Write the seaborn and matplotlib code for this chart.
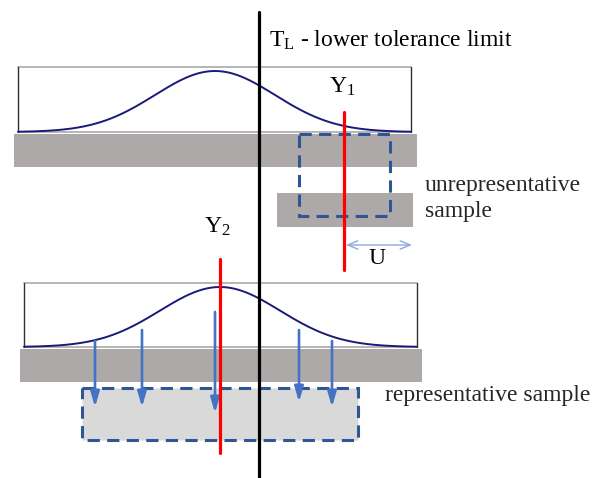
import numpy as np
import pandas as pd
import matplotlib
matplotlib.use("Agg")
import matplotlib.pyplot as plt
from matplotlib.patches import Rectangle
import seaborn as sns

# ==========================================
# DIAGRAM VALUES (pixel space of a 597x478 canvas, y grows downwards)
# ==========================================
panels = ["unrepresentative", "representative"]
curve_mu = [215, 220]          # centre of each bell curve
curve_sigma = [60, 60]         # spread of each bell curve
curve_box_x = [(18, 411), (24, 417)]
curve_box_y = [(67, 132), (283, 347)]
band_x = [(14, 417), (20, 422)]
band_y = [(134, 167), (349, 382)]

limit_x = 259                  # T_L line
limit_y = (12, 478)
y_lines_x = [344, 220]         # Y1, Y2
y_lines_y = [(112, 270), (259, 453)]

sample_box_gray = (277, 413, 193, 227)        # unrepresentative sample
sample_dash_1 = (299, 390, 134, 216)
sample_dash_2 = (82, 358, 388, 440)

arrow_x = [95, 142, 215, 299, 332]
arrow_y0 = [341, 330, 312, 330, 341]
arrow_y1 = [407, 407, 413, 402, 407]

u_arrow = (346, 412, 245)

labels = ["Y$_{1}$", "Y$_{2}$", "U"]
label_xy = [(342, 87), (217, 227), (377, 258)]

# ==========================================
# STYLE
# ==========================================
sns.set_theme(style="white")
plt.rcParams['font.family'] = ['Liberation Serif', 'DejaVu Serif']
plt.rcParams['mathtext.fontset'] = 'custom'
plt.rcParams['mathtext.rm'] = 'Liberation Serif'
plt.rcParams['mathtext.default'] = 'regular'

GRAY = '#ADA9A8'
LIGHT = '#D9D9D9'
DASH = '#2F5597'
ARROW = '#4472C4'
NAVY = '#1A1A78'
RED = '#FF0000'

fig = plt.figure(figsize=(5.97, 4.78), dpi=100)
ax = fig.add_axes([0, 0, 1, 1])
ax.set_xlim(0, 597)
ax.set_ylim(478, 0)
ax.axis('off')

for i in range(len(panels)):
    (bx0, bx1), (by0, by1) = curve_box_x[i], curve_box_y[i]
    # box around the distribution
    ax.plot([bx0, bx1], [by0, by0], color='#B0B0B0', lw=1.3, zorder=2)
    ax.plot([bx0, bx1], [by1, by1], color='#B0B0B0', lw=1.3, zorder=2)
    ax.plot([bx0, bx0], [by0, by1], color='#303030', lw=1.0, zorder=2)
    ax.plot([bx1, bx1], [by0, by1], color='#303030', lw=1.0, zorder=2)

    # bell curve
    xs = np.linspace(bx0, bx1, 300)
    amp = (by1 - by0) - 4
    ys = by1 - amp * np.exp(-0.5 * ((xs - curve_mu[i]) / curve_sigma[i]) ** 2)
    df = pd.DataFrame({'x': xs, 'y': ys})
    sns.lineplot(data=df, x='x', y='y', ax=ax, color=NAVY, lw=1.4,
                 sort=False, estimator=None, zorder=3)

    # gray material band
    (gx0, gx1), (gy0, gy1) = band_x[i], band_y[i]
    ax.add_patch(Rectangle((gx0, gy0), gx1 - gx0, gy1 - gy0,
                           facecolor=GRAY, edgecolor='none', zorder=1))

# unrepresentative sample block
x0, x1, y0, y1 = sample_box_gray
ax.add_patch(Rectangle((x0, y0), x1 - x0, y1 - y0, facecolor=GRAY,
                       edgecolor='none', zorder=1))

# representative sample block
x0, x1, y0, y1 = sample_dash_2
ax.add_patch(Rectangle((x0, y0), x1 - x0, y1 - y0, facecolor=LIGHT,
                       edgecolor=DASH, lw=2.2, linestyle=(0, (4, 2.4)),
                       zorder=2))

x0, x1, y0, y1 = sample_dash_1
ax.add_patch(Rectangle((x0, y0), x1 - x0, y1 - y0, facecolor='none',
                       edgecolor=DASH, lw=2.2, linestyle=(0, (4, 2.4)),
                       zorder=4))

# sampling arrows
for xa, ya0, ya1 in zip(arrow_x, arrow_y0, arrow_y1):
    ax.annotate('', xy=(xa, ya1), xytext=(xa, ya0),
                arrowprops=dict(arrowstyle='-|>,head_length=0.75,head_width=0.22',
                                color=ARROW, lw=1.9, shrinkA=0, shrinkB=0),
                zorder=5)

# U arrow
ux0, ux1, uy = u_arrow
ax.annotate('', xy=(ux1, uy), xytext=(ux0, uy),
            arrowprops=dict(arrowstyle='<->,head_length=0.6,head_width=0.25',
                            color='#8EA9DB', lw=1.0, shrinkA=0, shrinkB=0),
            zorder=5)

# Y1 / Y2 lines
for xl, (yl0, yl1) in zip(y_lines_x, y_lines_y):
    ax.plot([xl, xl], [yl0, yl1], color=RED, lw=2.3, zorder=6)

# tolerance limit
ax.plot([limit_x, limit_x], list(limit_y), color='black', lw=2.3, zorder=7)

# texts
fs = 17
ax.text(269, 40, "T$_{L}$ - lower tolerance limit", fontsize=fs,
        ha='left', va='center', color='black')
for lab, (tx, ty) in zip(labels, label_xy):
    ax.text(tx, ty, lab, fontsize=fs, ha='center', va='center', color='black')
ax.text(425, 186, "unrepresentative", fontsize=fs, ha='left', va='center')
ax.text(425, 211, "sample", fontsize=fs, ha='left', va='center')
ax.text(385, 396, "representative sample", fontsize=fs, ha='left', va='center')

fig.savefig('out.png', dpi=100)
